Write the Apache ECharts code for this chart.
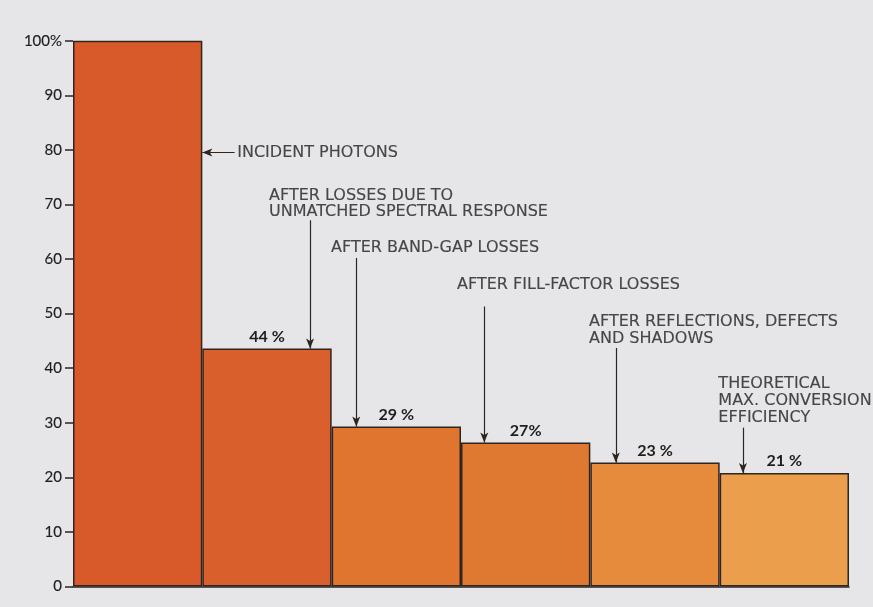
<!DOCTYPE html>
<html>
<head>
<meta charset="utf-8">
<script src="https://cdn.jsdelivr.net/npm/echarts@6/dist/echarts.min.js"></script>
<style>
html,body{margin:0;padding:0;background:#e6e6e8;}
#c{width:873px;height:607px;}
</style>
</head>
<body>
<div id="c"></div>
<script>
// ---- data ----
var categories = ["Incident photons", "Unmatched spectral response", "Band-gap losses", "Fill-factor losses", "Reflections, defects and shadows", "Theoretical max. efficiency"];
var barValues = [100, 43.6, 29.3, 26.4, 22.7, 20.8];
var barLabels = ["", "44 %", "29 %", "27%", "23 %", "21 %"];
var yTicks = [0, 10, 20, 30, 40, 50, 60, 70, 80, 90, 100];
var annotationTexts = [
  "INCIDENT PHOTONS",
  "AFTER LOSSES DUE TO\nUNMATCHED SPECTRAL RESPONSE",
  "AFTER BAND-GAP LOSSES",
  "AFTER FILL-FACTOR LOSSES",
  "AFTER REFLECTIONS, DEFECTS\nAND SHADOWS",
  "THEORETICAL\nMAX. CONVERSION\nEFFICIENCY"
];
// arrow anchors in data space (x on 0..6 scale, y in %)
var arrowX = [1.25, 1.833, 2.19, 3.18, 4.197, 5.18];
var arrowTopY = [79.5, 67.1, 60.2, 51.3, 43.7, 29.1];
var textX = [1.27, 1.516, 1.995, 2.97, 3.99, 4.99];
var textY = [79.5, 70.1, 62.1, 55.2, 47.0, 34.0];
var barColors = ["#d85a2a", "#d9602c", "#e07530", "#df7932", "#e58b3b", "#eb9f4c"];

// ---- chart ----
var chart = echarts.init(document.getElementById('c'), null, {renderer: 'canvas'});
var ink = '#2e2420';
var textInk = '#1e1e1e';
var labelFont = 'Lato, "DejaVu Sans", sans-serif';
var annoFont = '"DejaVu Sans", sans-serif';

var barData = barValues.map(function (v, i) {
  return {value: v, itemStyle: {color: barColors[i]}};
});

// arrows: first is horizontal pointing to bar 1 right edge, rest vertical to bar tops
var arrowLines = [];
arrowLines.push([{coord: [arrowX[0], arrowTopY[0]]}, {coord: [1.0, arrowTopY[0]]}]);
for (var i = 1; i < arrowX.length; i++) {
  arrowLines.push([{coord: [arrowX[i], arrowTopY[i]]}, {coord: [arrowX[i], barValues[i]]}]);
}

var textData = annotationTexts.map(function (t, i) {
  var d = {value: [textX[i], textY[i]], name: t};
  if (i === 1) d.label = {lineHeight: 15.5};
  return d;
});

chart.setOption({
  backgroundColor: '#e6e6e8',
  animation: false,
  grid: {left: 73, right: 24, top: 40.7, bottom: 20.5, containLabel: false},
  xAxis: [
    {
      type: 'category', data: categories,
      axisLine: {show: true, lineStyle: {color: ink, width: 1.5}},
      axisTick: {show: false}, axisLabel: {show: false}, splitLine: {show: false}
    },
    {
      type: 'value', min: 0, max: 6, show: false
    }
  ],
  yAxis: {
    type: 'value', min: 0, max: 100, interval: 10,
    axisLine: {show: false},
    axisTick: {show: true, length: 8, lineStyle: {color: ink, width: 1.5}},
    splitLine: {show: false},
    axisLabel: {
      margin: 11, color: textInk, fontFamily: labelFont, fontSize: 15,
      textBorderColor: textInk, textBorderWidth: 0.15,
      formatter: function (v) { return v === 100 ? '100%' : String(v); }
    }
  },
  series: [
    {
      type: 'bar', data: barData, xAxisIndex: 0,
      barWidth: '100%', barCategoryGap: '0%',
      itemStyle: {borderColor: ink, borderWidth: 1.5},
      label: {
        show: true, position: 'top', distance: 4,
        color: textInk, fontFamily: labelFont, fontSize: 16, fontWeight: 'bold',
        formatter: function (p) { return barLabels[p.dataIndex]; }
      }
    },
    {
      type: 'scatter', xAxisIndex: 1, data: textData,
      symbolSize: 0, silent: true,
      label: {
        show: true, position: 'right', distance: 0, align: 'left', verticalAlign: 'middle',
        color: textInk, fontFamily: annoFont, fontSize: 16, lineHeight: 17,
        textBorderColor: textInk, textBorderWidth: 0.15,
        formatter: function (p) { return p.name; }
      },
      markLine: {
        silent: true,
        symbol: ['none', 'arrow'], symbolSize: [6, 10],
        label: {show: false},
        lineStyle: {color: ink, width: 1.2, type: 'solid'},
        data: arrowLines
      }
    }
  ]
});
</script>
</body>
</html>
